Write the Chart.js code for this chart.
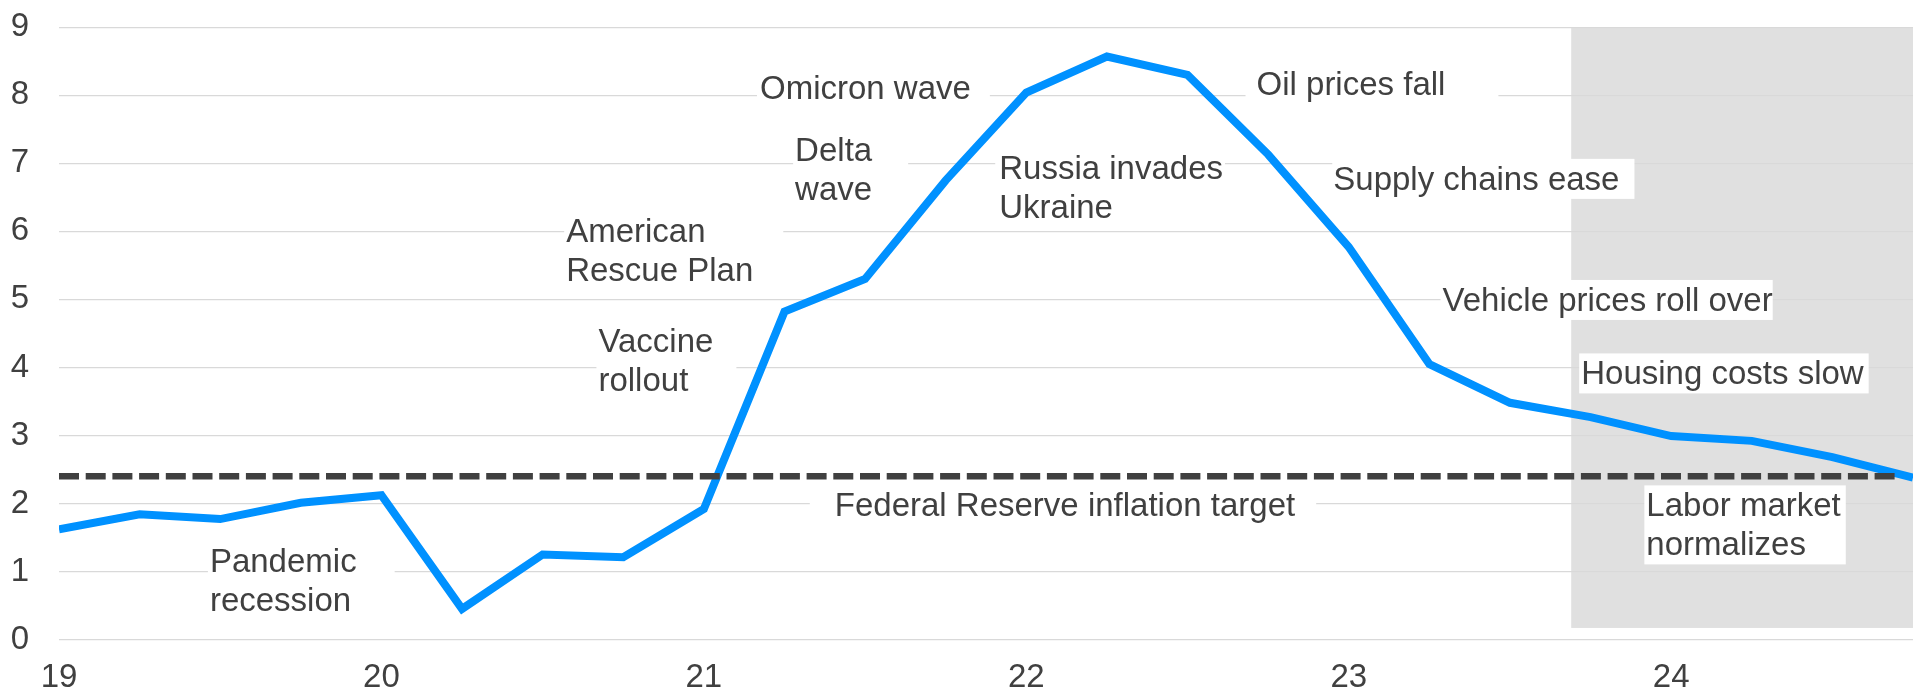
<!DOCTYPE html>
<html>
<head>
<meta charset="utf-8">
<script src="https://cdn.jsdelivr.net/npm/chart.js@4.4.1/dist/chart.umd.min.js"></script>
<style>
  html, body { margin: 0; padding: 0; background: #fff; }
  #wrap { width: 1913px; height: 693px; }
</style>
</head>
<body>
<div id="wrap"><canvas id="chart" width="1913" height="693"></canvas></div>
<script>
// ── Data ───────────────────────────────────────────────────────────────────

const quarters = [19, 19.25, 19.5, 19.75, 20, 20.25, 20.5, 20.75,
                  21, 21.25, 21.5, 21.75, 22, 22.25, 22.5, 22.75,
                  23, 23.25, 23.5, 23.75, 24, 24.25, 24.5, 24.75];
const inflation = [1.62, 1.84, 1.77, 2.01, 2.12, 0.45, 1.25, 1.21,
                   1.92, 4.82, 5.30, 6.75, 8.04, 8.57, 8.30, 7.13,
                   5.77, 4.05, 3.48, 3.27, 2.99, 2.92, 2.68, 2.38];

const targetRate = 2.4;
const targetSpan = [19, 24.7];

const xTickLabels = ["19", "20", "21", "22", "23", "24"];

// shaded period (x from..to, y low..high)
const shadeX = [23.69, 24.75];
const shadeY = [0.17, 9];

// callouts, anchored at (left of text, first baseline) in data units
const notes = [
  { lines: ["Pandemic", "recession"],            x: 19.468, y: 0.99, padL: 2,  padR: 38 },
  { lines: ["American", "Rescue Plan"],          x: 20.573, y: 5.84, padL: 2,  padR: 30 },
  { lines: ["Vaccine", "rollout"],               x: 20.673, y: 4.23, padL: 2,  padR: 23 },
  { lines: ["Delta", "wave"],                    x: 21.283, y: 7.04, padL: 2,  padR: 36 },
  { lines: ["Omicron wave"],                     x: 21.174, y: 7.94, padL: 3,  padR: 19 },
  { lines: ["Russia invades", "Ukraine"],        x: 21.916, y: 6.77, padL: 4,  padR: 2 },
  { lines: ["Oil prices fall"],                  x: 22.714, y: 8.00, padL: 11, padR: 53 },
  { lines: ["Supply chains ease"],               x: 22.952, y: 6.61, padL: 1,  padR: 15 },
  { lines: ["Vehicle prices roll over"],         x: 23.291, y: 4.83, padL: 2,  padR: 0 },
  { lines: ["Housing costs slow"],               x: 23.721, y: 3.75, padL: 2,  padR: 5 },
  { lines: ["Labor market", "normalizes"],       x: 23.923, y: 1.81, padL: 2,  padR: 5 },
  { lines: ["Federal Reserve inflation target"], x: 21.406, y: 1.81, padL: 25, padR: 21 },
];

// ── Style ──────────────────────────────────────────────────────────────────

const FAMILY = '"Liberation Sans", Arial, sans-serif';
const INK = "#404040";
const LINE_H = 39;

// ── Plugin: shaded box + callout text ──────────────────────────────────────

const callouts = {
  id: "callouts",
  beforeDraw(chart) {
    const { ctx, scales: { x, y } } = chart;
    ctx.save();
    ctx.fillStyle = "#fff";
    ctx.fillRect(0, 0, chart.width, chart.height);
    const x0 = x.getPixelForValue(shadeX[0]), x1 = x.getPixelForValue(shadeX[1]);
    const y0 = y.getPixelForValue(shadeY[1]), y1 = y.getPixelForValue(shadeY[0]);
    ctx.fillStyle = "#e0e0e0";
    ctx.fillRect(x0, y0, x1 - x0, y1 - y0);
    ctx.restore();
  },
  beforeDatasetsDraw(chart) {
    const { ctx, scales: { x, y } } = chart;
    ctx.save();
    ctx.font = `33px ${FAMILY}`;
    ctx.textBaseline = "alphabetic";
    ctx.textAlign = "left";
    notes.forEach(n => {
      const left = x.getPixelForValue(n.x);
      const base = y.getPixelForValue(n.y);
      const w = Math.max(...n.lines.map(t => ctx.measureText(t).width));
      const h = (n.lines.length - 1) * LINE_H + 40;
      ctx.fillStyle = "#fff";
      ctx.fillRect(left - n.padL, base - 31, w + n.padL + n.padR, h);
      ctx.fillStyle = INK;
      n.lines.forEach((t, i) => ctx.fillText(t, left, base + i * LINE_H));
    });
    ctx.restore();
  }
};

// ── Chart ──────────────────────────────────────────────────────────────────

new Chart(document.getElementById("chart").getContext("2d"), {
  type: "line",
  data: {
    datasets: [
      {
        label: "Fed target",
        data: targetSpan.map(v => ({ x: v, y: targetRate })),
        borderColor: INK,
        borderWidth: 6.5,
        borderDash: [20, 6.7],
        borderCapStyle: "butt",
        pointRadius: 0,
      },
      {
        label: "Inflation",
        data: quarters.map((q, i) => ({ x: q, y: inflation[i] })),
        borderColor: "#0091ff",
        borderWidth: 8,
        borderJoinStyle: "miter",
        pointRadius: 0,
        tension: 0,
      },
    ],
  },
  options: {
    responsive: false,
    animation: false,
    events: [],
    layout: { padding: { top: 27.3, right: 0, bottom: 0, left: 0 } },
    plugins: { legend: { display: false }, tooltip: { enabled: false } },
    scales: {
      x: {
        type: "linear",
        min: 19,
        max: 24.75,
        grid: { display: false },
        border: { display: false },
        ticks: {
          stepSize: 1,
          includeBounds: false,
          autoSkip: false,
          maxRotation: 0,
          padding: 11,
          color: INK,
          font: { family: FAMILY, size: 33 },
          callback: v => xTickLabels[Math.round(v - 19)] ?? "",
        },
        afterFit(s) { s.height = 53.5; s.paddingLeft = 0; s.paddingRight = 0; },
      },
      y: {
        min: 0,
        max: 9,
        grid: { color: "#d9d9d9", lineWidth: 1.3, drawTicks: false },
        border: { display: false },
        ticks: {
          stepSize: 1,
          padding: 30,
          color: INK,
          font: { family: FAMILY, size: 33 },
        },
        afterFit(s) { s.width = 59; s.paddingTop = 0; s.paddingBottom = 0; },
      },
    },
  },
  plugins: [callouts],
});
</script>
</body>
</html>
